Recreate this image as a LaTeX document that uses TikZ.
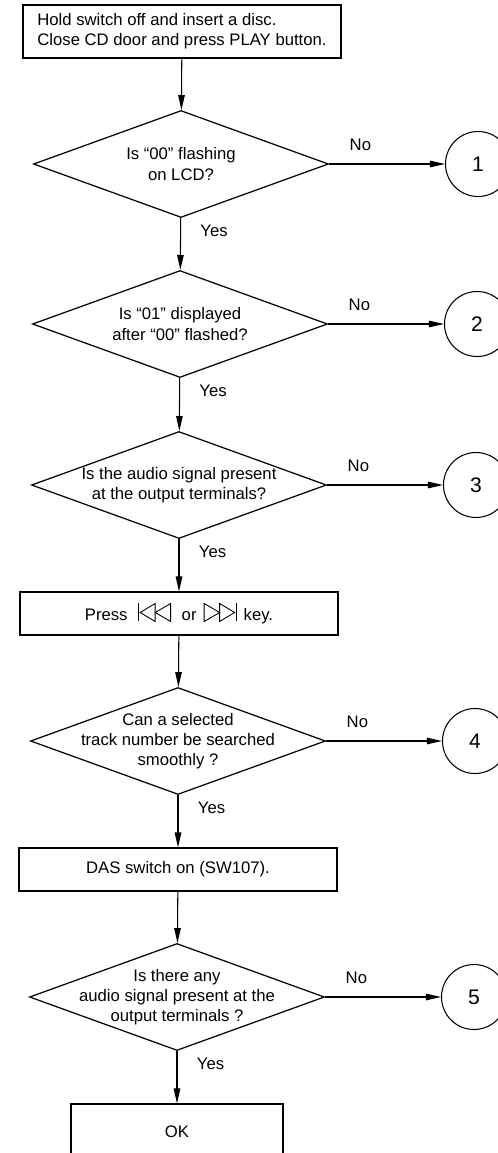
\documentclass[tikz,border=0pt]{standalone}
\usepackage{fontspec}
\setmainfont{Liberation Sans}
\usepackage{tikz}
\usetikzlibrary{arrows.meta,positioning,shapes.geometric}

\newcommand{\prevkey}{\tikz[baseline=0pt, line width=0.5pt]{\draw (0,-0.02) -- (0,0.34); \draw (0.03,0.16) -- (0.33,0.34) -- (0.33,-0.02) -- cycle; \draw (0.33,0.16) -- (0.64,0.34) -- (0.64,-0.02) -- cycle;}}
\newcommand{\nextkey}{\tikz[baseline=0pt, line width=0.5pt]{\draw (0,-0.02) -- (0,0.34) -- (0.31,0.16) -- cycle; \draw (0.31,-0.02) -- (0.31,0.34) -- (0.61,0.16) -- cycle; \draw (0.64,-0.02) -- (0.64,0.34);}}

\begin{document}
\begin{tikzpicture}[
node distance=2.6cm,
every node/.style={font=\fontsize{9.5}{11.5}\selectfont},
stepbox/.style={rectangle, draw, line width=0.6pt, minimum width=6.36cm, minimum height=0.86cm, align=center},
query/.style={diamond, draw, line width=0.7pt, minimum width=5.9cm, minimum height=2.14cm, inner sep=0pt, xshift=-0.02cm},
goto/.style={circle, draw, line width=0.6pt, minimum size=1.3cm, font=\fontsize{12}{14}\selectfont},
flow/.style={-{Triangle[length=0.3cm, width=0.13cm]}, line width=0.6pt}
]
\useasboundingbox (0,0) rectangle (9.96,-23.06);
\clip (0,0) rectangle (9.96,-23.06);

\node (start) [stepbox, minimum height=1.06cm, align=left] at (3.64,-0.63) {Hold switch off and insert a disc.\\Close CD door and press PLAY button.};
\node (q1) [query, below of=start, node distance=2.65cm] {};
\node (q1txt) [align=center] at (q1) {Is “00” flashing\\on LCD?};
\node (q2) [query, below of=q1, node distance=3.2cm] {};
\node (q2txt) [align=center] at (q2) {Is “01” displayed\\after “00” flashed?};
\node (q3) [query, below of=q2, node distance=3.22cm] {};
\node (q3txt) [align=center] at (q3) {Is the audio signal present\\at the output terminals?};
\node (press) [stepbox, below of=q3, node distance=2.57cm] {Press\hspace{0.12cm} \prevkey\hspace{0.12cm} or\hspace{0.05cm} \nextkey\hspace{0.05cm} key.};
\node (q4) [query, below of=press, node distance=2.55cm] {};
\node (q4txt) [align=center] at (q4) {Can a selected\\track number be searched\\smoothly ?};
\node (das) [stepbox, below of=q4, node distance=2.57cm] {DAS switch on (SW107).};
\node (q5) [query, below of=das, node distance=2.55cm] {};
\node (q5txt) [align=center] at (q5) {Is there any\\audio signal present at the\\output terminals ?};
\node (ok) [stepbox, below of=q5, node distance=2.7cm, minimum width=4.24cm, minimum height=1.12cm] {OK};

% numbered exits
\node (c1) [goto, right of=q1, node distance=5.94cm] {1};
\node (c2) [goto, right of=q2, node distance=5.94cm] {2};
\node (c3) [goto, right of=q3, node distance=5.94cm] {3};
\node (c4) [goto, right of=q4, node distance=5.94cm] {4};
\node (c5) [goto, right of=q5, node distance=5.94cm] {5};

\draw [flow] (start) -- (q1);
\draw [flow] (q1) -- node [right=0.27cm, pos=0.24] {Yes} (q2);
\draw [flow] (q2) -- node [right=0.27cm, pos=0.24] {Yes} (q3);
\draw [flow] (q3) -- node [right=0.27cm, pos=0.24] {Yes} (press);
\draw [flow] (press) -- (q4);
\draw [flow] (q4) -- node [right=0.27cm, pos=0.24] {Yes} (das);
\draw [flow] (das) -- (q5);
\draw [flow] (q5) -- node [right=0.27cm, pos=0.24] {Yes} (ok);

\draw [flow] (q1) -- node [above=4pt, pos=0.27] {No} (c1);
\draw [flow] (q2) -- node [above=4pt, pos=0.27] {No} (c2);
\draw [flow] (q3) -- node [above=4pt, pos=0.27] {No} (c3);
\draw [flow] (q4) -- node [above=4pt, pos=0.27] {No} (c4);
\draw [flow] (q5) -- node [above=4pt, pos=0.27] {No} (c5);
\end{tikzpicture}
\end{document}
